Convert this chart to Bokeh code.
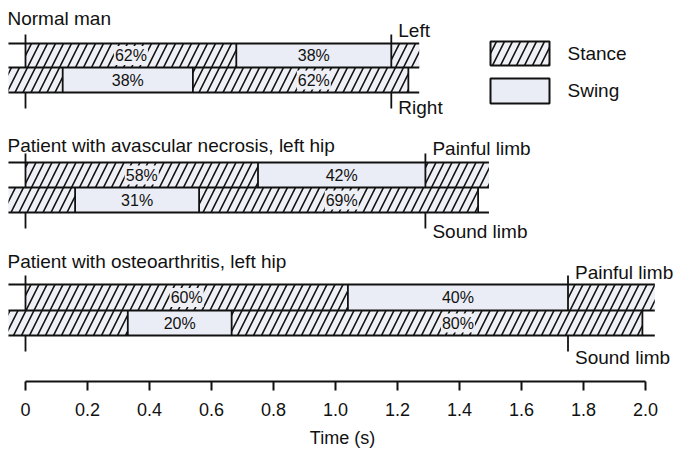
from bokeh.plotting import figure
from bokeh.models import ColumnDataSource, Range1d, FixedTicker
from bokeh.core.properties import value
from bokeh.embed import file_html
from bokeh.resources import INLINE

# ---------------- data ----------------
group_titles = ["Normal man",
                "Patient with avascular necrosis, left hip",
                "Patient with osteoarthritis, left hip"]
top_names = ["Left", "Painful limb", "Painful limb"]
bottom_names = ["Right", "Sound limb", "Sound limb"]

# phase boundaries in seconds
# top row: stance | swing | stance (continues)
# bottom row: stance (from previous cycle) | swing | stance
normal_top = [0.0, 0.68, 1.18, 1.27]
normal_bottom = [-0.055, 0.12, 0.54, 1.235]
avn_top = [0.0, 0.75, 1.29, 1.495]
avn_bottom = [-0.055, 0.16, 0.56, 1.46]
oa_top = [0.0, 1.04, 1.75, 2.03]
oa_bottom = [-0.055, 0.33, 0.665, 1.99]

normal_top_pct = ["62%", "38%"]
normal_bottom_pct = ["38%", "62%"]   # swing, stance
avn_top_pct = ["58%", "42%"]
avn_bottom_pct = ["31%", "69%"]
oa_top_pct = ["60%", "40%"]
oa_bottom_pct = ["20%", "80%"]

tick_values = [0.0, 0.2, 0.4, 0.6, 0.8, 1.0, 1.2, 1.4, 1.6, 1.8, 2.0]
tick_labels = ["0", "0.2", "0.4", "0.6", "0.8", "1.0", "1.2", "1.4", "1.6", "1.8", "2.0"]
legend_labels = ["Stance", "Swing"]

tops = [normal_top, avn_top, oa_top]
bottoms = [normal_bottom, avn_bottom, oa_bottom]
top_pcts = [normal_top_pct, avn_top_pct, oa_top_pct]
bottom_pcts = [normal_bottom_pct, avn_bottom_pct, oa_bottom_pct]

# ---------------- layout (screen px) ----------------
W, H = 684, 457
AXIS_Y = 381
X0_PX, PX_PER_S = 25, 310.0
def t_at(px):
    return (px - X0_PX) / PX_PER_S

title_y = [18, 145, 261]
line_top = [43, 162, 284]
line_mid = [67, 187, 310]
line_bot = [92, 212, 335]
top_name_dy = [13, 14, 12]
bottom_name_dy = [15, 19, 22]

FONT = "Liberation Sans"
HATCH_BG = "#eff0f5"
SWING_BG = "#eaedf5"
INK = "#111111"

p = figure(width=W, height=H, output_backend="svg", toolbar_location=None,
           x_range=Range1d(t_at(0), t_at(W)), y_range=Range1d(AXIS_Y, 0),
           x_axis_location="below", y_axis_location=None,
           min_border_left=0, min_border_right=0, min_border_top=0,
           min_border_bottom=H - AXIS_Y)
p.outline_line_color = None
p.grid.visible = False
p.background_fill_color = "white"
p.border_fill_color = "white"

st = dict(left=[], right=[], top=[], bottom=[])
sw = dict(left=[], right=[], top=[], bottom=[])
hl = dict(x0=[], x1=[], y0=[], y1=[])
vl = dict(x0=[], x1=[], y0=[], y1=[])
pct_st = dict(x=[], y=[], t=[])
pct_sw = dict(x=[], y=[], t=[])
names = dict(x=[], y=[], t=[])

def add_seg(d, a, b, y0, y1):
    d["left"].append(a); d["right"].append(b); d["top"].append(y0); d["bottom"].append(y1)

def add_line(d, x0, x1, y0, y1):
    d["x0"].append(x0); d["x1"].append(x1); d["y0"].append(y0); d["y1"].append(y1)

for g in range(3):
    tb, bb = tops[g], bottoms[g]
    yt, ym, yb = line_top[g], line_mid[g], line_bot[g]
    # top row
    add_seg(st, tb[0], tb[1], yt, ym)
    add_seg(sw, tb[1], tb[2], yt, ym)
    add_seg(st, tb[2], tb[3], yt, ym)
    # bottom row
    add_seg(st, bb[0], bb[1], ym, yb)
    add_seg(sw, bb[1], bb[2], ym, yb)
    add_seg(st, bb[2], bb[3], ym, yb)
    # horizontal rules
    for y in (yt, ym, yb):
        add_line(hl, bb[0], tb[3], y, y)
    # vertical borders
    add_line(vl, tb[1], tb[1], yt, ym)
    for x in (tb[0], tb[2]):
        add_line(vl, x, x, yt - 9, ym)
        add_line(vl, x, x, yb, yb + 16)
    for x in (bb[1], bb[2], bb[3]):
        add_line(vl, x, x, ym, yb)
    # percentages
    rt, rb = (yt + ym) / 2, (ym + yb) / 2
    pct_st["x"].append((tb[0] + tb[1]) / 2); pct_st["y"].append(rt); pct_st["t"].append(top_pcts[g][0])
    pct_sw["x"].append((tb[1] + tb[2]) / 2); pct_sw["y"].append(rt); pct_sw["t"].append(top_pcts[g][1])
    pct_sw["x"].append((bb[1] + bb[2]) / 2); pct_sw["y"].append(rb); pct_sw["t"].append(bottom_pcts[g][0])
    pct_st["x"].append((tb[1] + tb[2]) / 2); pct_st["y"].append(rb); pct_st["t"].append(bottom_pcts[g][1])
    # limb names
    names["x"].append(tb[2]); names["y"].append(yt - top_name_dy[g]); names["t"].append(top_names[g])
    names["x"].append(tb[2]); names["y"].append(yb + bottom_name_dy[g]); names["t"].append(bottom_names[g])

HATCH = dict(hatch_pattern="/", hatch_scale=16, hatch_weight=1.6, hatch_color=INK)

p.quad(source=ColumnDataSource(st), left="left", right="right", top="top", bottom="bottom",
       fill_color=HATCH_BG, line_color=None, **HATCH)
p.quad(source=ColumnDataSource(sw), left="left", right="right", top="top", bottom="bottom",
       fill_color=SWING_BG, line_color=None)
p.segment(source=ColumnDataSource(hl), x0="x0", x1="x1", y0="y0", y1="y1",
          line_color=INK, line_width=1.8)
p.segment(source=ColumnDataSource(vl), x0="x0", x1="x1", y0="y0", y1="y1",
          line_color=INK, line_width=1.8)

p.text(source=ColumnDataSource(pct_st), x="x", y="y", text="t", text_font=value(FONT),
       text_font_size="16px", text_align="center", text_baseline="middle", text_color=INK,
       background_fill_color=HATCH_BG, padding=1)
p.text(source=ColumnDataSource(pct_sw), x="x", y="y", text="t", text_font=value(FONT),
       text_font_size="16px", text_align="center", text_baseline="middle", text_color=INK)
p.text(source=ColumnDataSource(names), x="x", y="y", text="t", text_font=value(FONT),
       text_font_size="19px", text_align="left", text_baseline="middle", text_color=INK,
       x_offset=7)
p.text(x=[t_at(7)] * 3, y=title_y, text=group_titles, text_font=value(FONT),
       text_font_size="19px", text_align="left", text_baseline="middle", text_color=INK)

# legend
leg_x0, leg_x1 = t_at(490), t_at(549)
p.quad(left=[leg_x0], right=[leg_x1], top=[41], bottom=[65], fill_color=HATCH_BG,
       line_color=INK, line_width=2, **HATCH)
p.quad(left=[leg_x0], right=[leg_x1], top=[78], bottom=[103], fill_color=SWING_BG,
       line_color=INK, line_width=2)
p.text(x=[t_at(567)] * 2, y=[53, 90], text=legend_labels, text_font=value(FONT),
       text_font_size="19px", text_align="left", text_baseline="middle", text_color=INK)

# time axis
ax = p.xaxis[0]
ax.bounds = (tick_values[0], tick_values[-1])
ax.ticker = FixedTicker(ticks=tick_values, minor_ticks=[])
ax.major_label_overrides = {v: s for v, s in zip(tick_values, tick_labels)}
ax.axis_label = "Time (s)"
ax.axis_line_width = 2
ax.axis_line_color = INK
ax.major_tick_line_width = 2
ax.major_tick_line_color = INK
ax.major_tick_in = 0
ax.major_tick_out = 9
ax.minor_tick_out = 0
ax.major_label_standoff = 12
ax.major_label_text_font = FONT
ax.major_label_text_font_size = "18px"
ax.major_label_text_color = INK
ax.axis_label_text_font = FONT
ax.axis_label_text_font_size = "18px"
ax.axis_label_text_font_style = "normal"
ax.axis_label_text_color = INK
ax.axis_label_standoff = 9

open("out.html", "w").write(file_html(p, INLINE))
